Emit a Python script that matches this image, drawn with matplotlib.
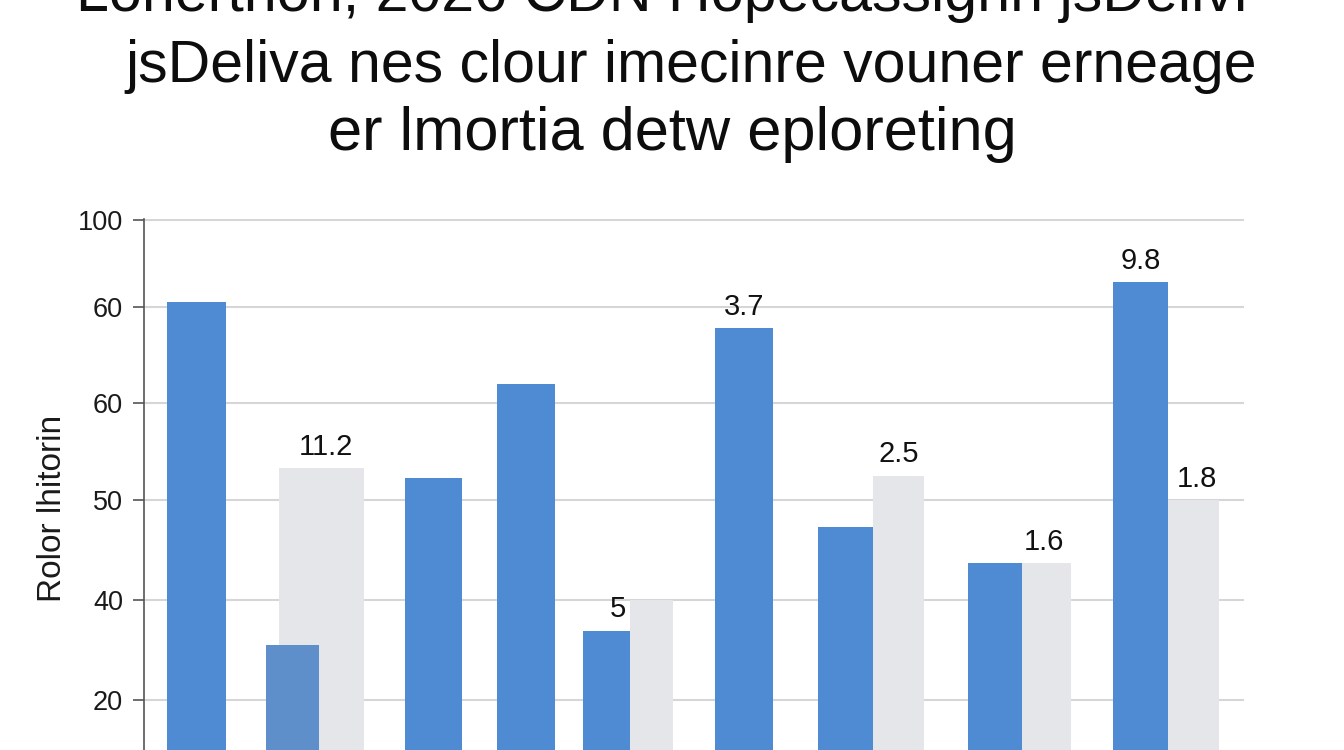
import matplotlib.pyplot as plt
from matplotlib import font_manager

# bar data (x in axis units = px from left spine)
blue_left = [23, 122, 261, 353, 439, 571, 674, 824, 969]
blue_right = [82, 175, 318, 411, 486, 629, 729, 878, 1024]
blue_vals = [101.6, 31.3, 65.5, 84.8, 34.2, 96.3, 55.5, 48.1, 105.7]
blue_colors = ['#4f8bd3', '#5e8fcb', '#4f8bd3', '#4f8bd3', '#4f8bd3',
               '#4f8bd3', '#4f8bd3', '#4f8bd3', '#4f8bd3']

gray_left = [135, 486, 729, 878, 1024]
gray_right = [220, 529, 780, 927, 1075]
gray_vals = [67.6, 40.5, 66.0, 48.1, 61.0]

# value labels: (text, series, index)
value_labels = [('11.2', 'gray', 0), ('5', 'blue', 4), ('3.7', 'blue', 5),
                ('2.5', 'gray', 2), ('1.6', 'gray', 3), ('9.8', 'blue', 8),
                ('1.8', 'gray', 4)]
label_dx = {'11.2': 4, '5': 11, '1.6': -3, '1.8': 3}

ytick_pos = [20, 40.5, 61, 81, 100.6, 118.5]
ytick_labels = ['20', '40', '50', '60', '60', '100']
ylabel = 'Rolor lhitorin'

title_lines = ['Lonerthon, 2026 CDN Hopecassignh jsDelivi',
               'jsDeliva nes clour imecinre vouner erneage',
               'er lmortia detw eploreting']


def pick(names):
    avail = {f.name for f in font_manager.fontManager.ttflist}
    return [n for n in names if n in avail] + ['DejaVu Sans']


narrow = pick(['Liberation Sans Narrow', 'Liberation Sans'])
regular = pick(['Liberation Sans', 'Roboto'])

fig = plt.figure(figsize=(13.44, 7.5), dpi=100)
ax = fig.add_axes([144 / 1344, 0, 1100 / 1344, 1 - 219 / 750])

for i in range(len(gray_vals)):
    ax.bar(gray_left[i], gray_vals[i], width=gray_right[i] - gray_left[i],
           align='edge', color='#e4e6ea', zorder=2)
for i in range(len(blue_vals)):
    ax.bar(blue_left[i], blue_vals[i], width=blue_right[i] - blue_left[i],
           align='edge', color=blue_colors[i], zorder=3)

for txt, series, idx in value_labels:
    if series == 'blue':
        x = (blue_left[idx] + blue_right[idx]) / 2
        y = blue_vals[idx]
    else:
        x = (gray_left[idx] + gray_right[idx]) / 2
        y = gray_vals[idx]
    ax.annotate(txt, (x, y), xytext=(label_dx.get(txt, 0) * 0.72, 15.5),
                textcoords='offset points', ha='center', va='center',
                fontsize=21, family=narrow, color='#111111', zorder=4)

ax.set_xlim(0, 1100)
ax.set_ylim(9.74, 118.7)
ax.set_yticks(ytick_pos)
ax.set_yticklabels(ytick_labels, family=regular, fontsize=19.5, color='#1a1a1a')
ax.set_xticks([])
ax.yaxis.grid(True, color='#d6d6d6', linewidth=1.5, zorder=0)
ax.set_axisbelow(True)
ax.tick_params(axis='y', length=8, width=1.2, color='#555555', pad=7)
for s in ['top', 'right', 'bottom']:
    ax.spines[s].set_visible(False)
ax.spines['left'].set_color('#555555')
ax.spines['left'].set_linewidth(1.2)

fig.text(53 / 1344, 1 - 508 / 750, ylabel, rotation=90, ha='center',
         va='center', fontsize=24, family=regular, color='#1a1a1a')

baselines = [11, 82, 150]
centers = [662, 691, 672]
sizes = [42.6, 42.5, 44.2]
for line, b, cx, fs in zip(title_lines, baselines, centers, sizes):
    fig.text(cx / 1344, 1 - b / 750, line, ha='center', va='baseline',
             fontsize=fs, family=narrow, color='#0d0d0d')

fig.savefig('out.png', dpi=100)
